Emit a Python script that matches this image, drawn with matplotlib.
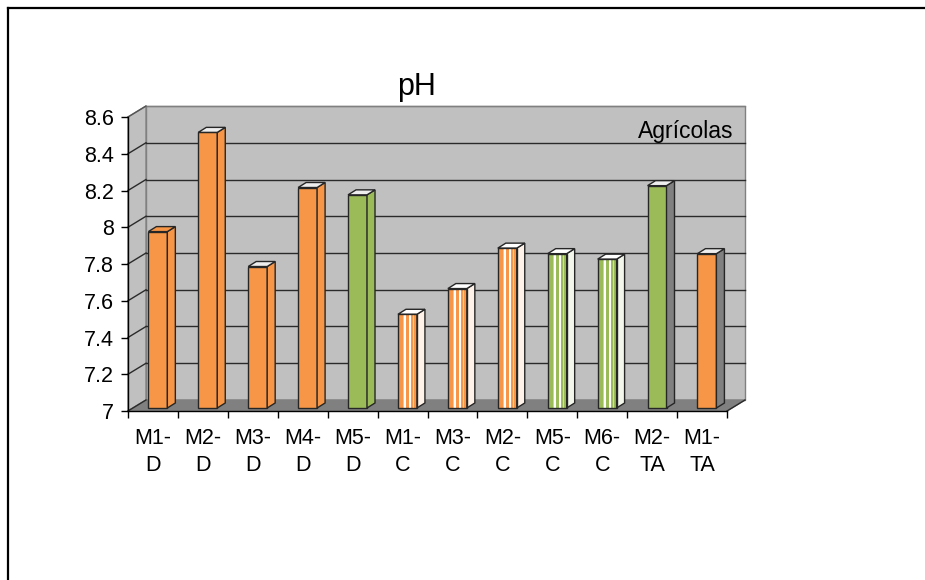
import matplotlib
matplotlib.use('Agg')
import matplotlib.pyplot as plt
import numpy as np
from matplotlib.patches import Polygon, Rectangle
from matplotlib.lines import Line2D
from matplotlib.colors import to_rgb

# ---- data ----
sites = ["M1", "M2", "M3", "M4", "M5", "M1", "M3", "M2", "M5", "M6", "M2", "M1"]
groups = ["D", "D", "D", "D", "D", "C", "C", "C", "C", "C", "TA", "TA"]
ph = [7.96, 8.50, 7.77, 8.20, 8.16, 7.51, 7.65, 7.87, 7.84, 7.81, 8.21, 7.84]
bar_kind = ["o", "o", "o", "o", "g", "o", "o", "o", "g", "g", "g", "o"]
yticks = [7.0, 7.2, 7.4, 7.6, 7.8, 8.0, 8.2, 8.4, 8.6]
ytick_labels = ["7", "7.2", "7.4", "7.6", "7.8", "8", "8.2", "8.4", "8.6"]
title = "pH"
note = "Agrícolas"

plt.rcParams['font.family'] = ['Liberation Sans', 'DejaVu Sans']

W, H = 925, 580
fig = plt.figure(figsize=(W / 100, H / 100), dpi=100)
L, R, B, T = 128, 727, 411, 117
ax = fig.add_axes([L / W, 1 - B / H, (R - L) / W, (B - T) / H])
n = len(ph)
ymin, ymax = yticks[0], yticks[-1]
ax.set_xlim(-0.5, n - 0.5)
ax.set_ylim(ymin, ymax)
ax.set_autoscale_on(False)
ax.patch.set_visible(False)

ppx = (R - L) / n
ppy = (B - T) / (ymax - ymin)


def d(px, py):
    return px / ppx, py / ppy


DX, DY = d(18, 11)        # full depth of the 3D box
FX, FY = d(4.9, 3.0)      # front face offset of bars
BX, BY = d(8, 5)          # depth of a bar
bw = 0.38

x0w, x1w = -0.5, n - 0.5
# back wall
ax.add_patch(Rectangle((x0w + DX, ymin + DY), n, ymax - ymin, fc='#C0C0C0',
                       ec='#808080', lw=1, zorder=0.5, clip_on=False))
# left wall
ax.add_patch(Polygon([(x0w, ymin), (x0w + DX, ymin + DY), (x0w + DX, ymax + DY), (x0w, ymax)],
                     closed=True, fc='#C0C0C0', ec='#808080', lw=1, zorder=0.5, clip_on=False))
# floor
ax.add_patch(Polygon([(x0w, ymin), (x1w, ymin), (x1w + DX, ymin + DY), (x0w + DX, ymin + DY)],
                     closed=True, fc='#808080', ec='#808080', lw=1, zorder=0.6, clip_on=False))
# gridlines
for v in yticks:
    c = '#808080' if v == ymax else '#2a2a2a'
    if v != ymin:
        ax.plot([x0w + DX, x1w + DX], [v + DY, v + DY], color=c, lw=1, zorder=0.7, clip_on=False)
    ax.plot([x0w, x0w + DX], [v, v + DY], color='#2a2a2a' if v != ymax else '#555555',
            lw=1, zorder=0.7, clip_on=False)
ax.plot([x1w, x1w + DX], [ymin, ymin + DY], color='#2a2a2a', lw=1, zorder=0.7, clip_on=False)

palette = {"o": "#F79646", "g": "#9BBB59"}
profile = np.array([1, 1, 1, 1, 1, .6, 0, 0, 1, 1, 1, 1, 0, 0, 1, 1, .5, 1, 1, 1], dtype=float)
edge = '#262626'

for i, (v, k, g) in enumerate(zip(ph, bar_kind, groups)):
    col = np.array(to_rgb(palette[k]))
    xa = i - bw / 2 + FX
    xb = i + bw / 2 + FX
    ya = ymin + FY
    yb = v + FY
    z = 2 + i * 0.01
    if g == "C":
        img = (1 - profile)[None, :, None] * np.ones(3) + profile[None, :, None] * col
        ax.imshow(img, extent=[xa, xb, ya, yb], aspect='auto', interpolation='nearest',
                  zorder=z)
        ax.add_patch(Rectangle((xa, ya), xb - xa, yb - ya, fill=False, ec=edge, lw=1, zorder=z + 0.001))
        side_c = 0.88 * np.ones(3) + 0.12 * col
        top_c = '#FFFFFF'
    else:
        ax.add_patch(Rectangle((xa, ya), xb - xa, yb - ya, fc=col, ec=edge, lw=1, zorder=z))
        side_c = '#808080' if g == "TA" else col
        top_c = col if i == 0 else '#EEEEEE'
    ax.add_patch(Polygon([(xb, ya), (xb + BX, ya + BY), (xb + BX, yb + BY), (xb, yb)], closed=True,
                         fc=side_c, ec=edge, lw=1, zorder=z, clip_on=False))
    ax.add_patch(Polygon([(xa, yb), (xb, yb), (xb + BX, yb + BY), (xa + BX, yb + BY)], closed=True,
                         fc=top_c, ec=edge, lw=1, zorder=z, clip_on=False))

# axes / ticks
for s in ['top', 'right']:
    ax.spines[s].set_visible(False)
for s in ['left', 'bottom']:
    ax.spines[s].set_color('black')
    ax.spines[s].set_linewidth(1)
    ax.spines[s].set_zorder(3)
ax.set_yticks(yticks)
ax.set_yticklabels(ytick_labels, fontsize=15.5)
ax.tick_params(axis='y', direction='out', length=5, width=1, pad=5, color='black')
ax.set_xticks(np.arange(n + 1) - 0.5)
ax.set_xticklabels([])
ax.tick_params(axis='x', which='major', direction='out', length=5, width=1, color='black')
ax.set_xticks(np.arange(n), minor=True)
ax.set_xticklabels([f"{s}-\n{g}" for s, g in zip(sites, groups)], minor=True,
                   fontsize=15.5, linespacing=1.42)
ax.tick_params(axis='x', which='minor', length=0, pad=12)

fig.text(417 / W, 1 - 87 / H, title, ha='center', va='center', fontsize=22)
fig.text(733 / W, 1 - 131 / H, note, ha='right', va='center', fontsize=16.5)

# outer frame (cropped)
fig.add_artist(Line2D([8 / W, 1], [1 - 8 / H, 1 - 8 / H], color='black', lw=1.6,
                      transform=fig.transFigure))
fig.add_artist(Line2D([8 / W, 8 / W], [0, 1 - 8 / H], color='black', lw=1.6,
                      transform=fig.transFigure))

fig.savefig('out.png', dpi=100)
